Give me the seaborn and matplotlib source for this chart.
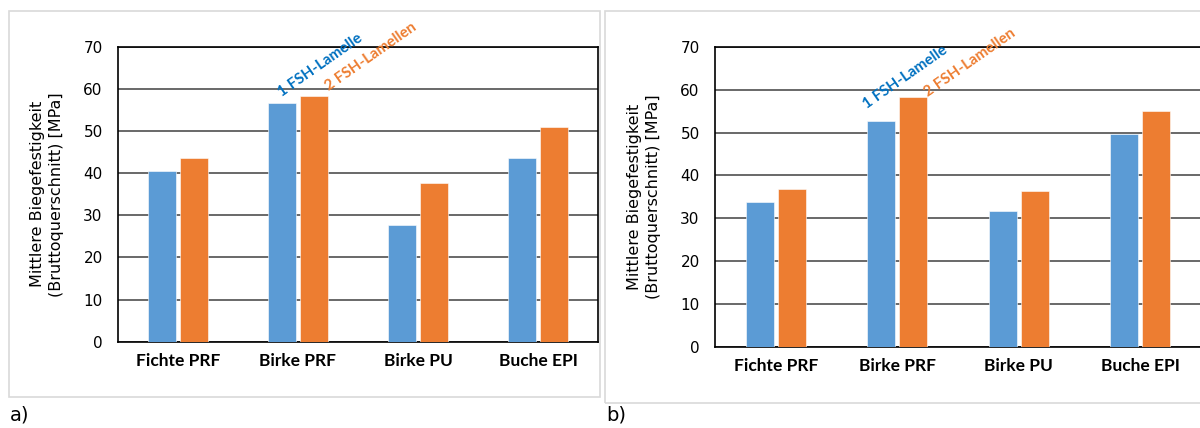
import matplotlib.pyplot as plt
import matplotlib.patches as mpatches
import pandas as pd
import seaborn as sns

categories = ["Fichte PRF", "Birke PRF", "Birke PU", "Buche EPI"]
series = ["1 FSH-Lamelle", "2 FSH-Lamellen"]

# panel a)
a_one = [40.5, 56.6, 27.6, 43.6]
a_two = [43.7, 58.4, 37.6, 50.9]
# panel b)
b_one = [33.8, 52.8, 31.8, 49.7]
b_two = [36.8, 58.3, 36.4, 55.0]

ylabel = "Mittlere Biegefestigkeit\n(Bruttoquerschnitt) [MPa]"
COLORS = ["#5B9BD5", "#ED7D31"]
TEXT_COLORS = ["#0070C0", "#ED7D31"]


def make_frame(one, two):
    return pd.DataFrame(
        {
            "kategorie": categories * 2,
            "serie": [series[0]] * 4 + [series[1]] * 4,
            "wert": one + two,
        }
    )


def draw_panel(ax, df, text_pos):
    sns.barplot(
        data=df, x="kategorie", y="wert", hue="serie", order=categories, hue_order=series,
        palette=COLORS, width=0.53, gap=0.13, legend=False, ax=ax, saturation=1,
        edgecolor="white", linewidth=0.4, zorder=3,
    )
    ax.set_ylim(0, 70)
    ax.set_xlim(-0.5, 3.5)
    ax.set_yticks(range(0, 71, 10))
    ax.yaxis.grid(True, color="#404040", linewidth=1.1, zorder=0)
    ax.set_axisbelow(True)
    ax.tick_params(axis="both", length=0, labelcolor="black")
    ax.tick_params(axis="y", labelsize=11, pad=11)
    ax.tick_params(axis="x", pad=8)
    for lab in ax.get_xticklabels():
        lab.set_family("Lato")
        lab.set_fontweight("bold")
        lab.set_fontsize(12.5)
    for s in ax.spines.values():
        s.set_color("black")
        s.set_linewidth(1.2)
    ax.set_xlabel("")
    ax.set_ylabel(ylabel, fontsize=11.5, linespacing=1.35, labelpad=14, color="black")
    for (x, y), name, c in zip(text_pos, series, TEXT_COLORS):
        ax.text(x, y, name, color=c, rotation=35, rotation_mode="anchor", ha="left", va="bottom",
                family="Lato", fontweight="bold", fontsize=11)


sns.set_theme(style="white")
plt.rcParams["font.family"] = ["DejaVu Sans"]

fig = plt.figure(figsize=(12, 4.28), dpi=100)
fig.patches.append(mpatches.Rectangle((0.0075, 0.0724), 0.4925, 0.902, transform=fig.transFigure,
                                      fill=False, edgecolor="#d9d9d9", linewidth=1.2))
fig.patches.append(mpatches.Rectangle((0.504, 0.0584), 0.5, 0.916, transform=fig.transFigure,
                                      fill=False, edgecolor="#d9d9d9", linewidth=1.2))

ax_a = fig.add_axes([0.0983, 0.2016, 0.4, 0.689])
ax_b = fig.add_axes([0.5958, 0.190, 0.405, 0.700])

draw_panel(ax_a, make_frame(a_one, a_two), [(0.88, 57.6), (1.27, 59.0)])
draw_panel(ax_b, make_frame(b_one, b_two), [(0.765, 55.0), (1.265, 57.8)])

fig.text(0.0083, 0.03, "a)", fontsize=14, va="center", ha="left", color="black")
fig.text(0.505, 0.03, "b)", fontsize=14, va="center", ha="left", color="black")

fig.savefig("out.png", dpi=100)
